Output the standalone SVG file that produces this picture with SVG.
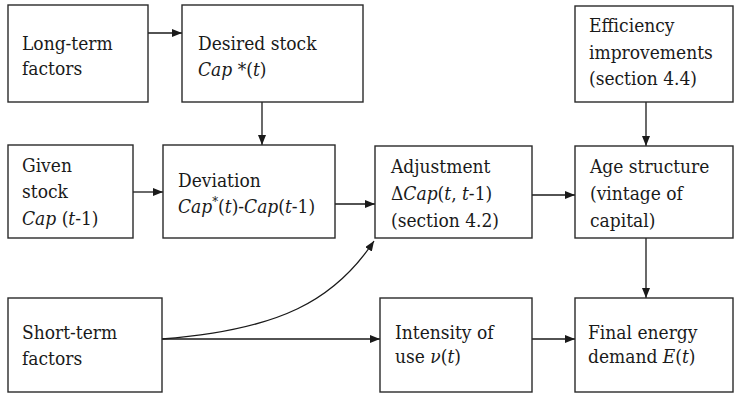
<svg xmlns="http://www.w3.org/2000/svg" width="736" height="394" viewBox="0 0 736 394">
  <defs>
    <marker id="arrow" viewBox="0 0 10 8" refX="10" refY="4" markerWidth="10" markerHeight="8" markerUnits="userSpaceOnUse" orient="auto">
      <path d="M0,0 L10,4 L0,8 Z" fill="#1a1a1a"/>
    </marker>
    <style>
      rect { fill: #fff; stroke: #2a2a2a; stroke-width: 1.4; }
      text { font-family: 'DejaVu Serif Condensed', 'DejaVu Serif', 'Liberation Serif', serif; font-stretch: condensed; font-size: 19px; fill: #1a1a1a; }
      .i { font-style: italic; }
      .conn { fill: none; stroke: #1a1a1a; stroke-width: 1.3; marker-end: url(#arrow); }
    </style>
  </defs>

  <rect width="736" height="394" style="fill:#fff;stroke:none"/>

  <g id="connectors">
    <line class="conn" x1="148" y1="33" x2="182" y2="33"/>
    <line class="conn" x1="262" y1="102" x2="262" y2="145"/>
    <line class="conn" x1="133" y1="192" x2="163" y2="192"/>
    <line class="conn" x1="335" y1="204" x2="375" y2="204"/>
    <line class="conn" x1="532" y1="195" x2="575" y2="195"/>
    <line class="conn" x1="646" y1="102" x2="646" y2="146"/>
    <line class="conn" x1="646" y1="238" x2="646" y2="298"/>
    <line class="conn" x1="162" y1="339" x2="380" y2="339"/>
    <line class="conn" x1="532" y1="339" x2="575" y2="339"/>
    <path class="conn" d="M162,339 C280,330 335,300 374,241"/>
  </g>

  <g id="long-term">
    <rect x="8" y="5" width="140" height="97"/>
    <text x="22" y="50">Long-term</text>
    <text x="22" y="75">factors</text>
  </g>

  <g id="desired-stock">
    <rect x="182" y="5" width="181" height="97"/>
    <text x="198" y="50">Desired stock</text>
    <text x="198" y="76"><tspan class="i">Cap</tspan> *(<tspan class="i">t</tspan>)</text>
  </g>

  <g id="efficiency">
    <rect x="575" y="6" width="158" height="96"/>
    <text x="589" y="32">Efficiency</text>
    <text x="589" y="59">improvements</text>
    <text x="589" y="85">(section 4.4)</text>
  </g>

  <g id="given-stock">
    <rect x="8" y="145" width="125" height="93"/>
    <text x="22" y="172">Given</text>
    <text x="22" y="198">stock</text>
    <text x="22" y="225"><tspan class="i">Cap</tspan> (<tspan class="i">t</tspan>-1)</text>
  </g>

  <g id="deviation">
    <rect x="163" y="145" width="172" height="93"/>
    <text x="178" y="187">Deviation</text>
    <text x="178" y="213"><tspan class="i">Cap</tspan><tspan font-size="13" dy="-7">*</tspan><tspan dy="7">(</tspan><tspan class="i">t</tspan>)-<tspan class="i">Cap</tspan>(<tspan class="i">t</tspan>-1)</text>
  </g>

  <g id="adjustment">
    <rect x="375" y="146" width="157" height="92"/>
    <text x="391" y="173">Adjustment</text>
    <text x="391" y="200">Δ<tspan class="i">Cap</tspan>(<tspan class="i">t</tspan>, <tspan class="i">t</tspan>-1)</text>
    <text x="391" y="227">(section 4.2)</text>
  </g>

  <g id="age-structure">
    <rect x="575" y="146" width="158" height="92"/>
    <text x="590" y="173">Age structure</text>
    <text x="590" y="200">(vintage of</text>
    <text x="590" y="227">capital)</text>
  </g>

  <g id="short-term">
    <rect x="8" y="298" width="154" height="94"/>
    <text x="22" y="339">Short-term</text>
    <text x="22" y="365">factors</text>
  </g>

  <g id="intensity">
    <rect x="380" y="298" width="152" height="94"/>
    <text x="395" y="339">Intensity of</text>
    <text x="395" y="363">use <tspan class="i">ν</tspan>(<tspan class="i">t</tspan>)</text>
  </g>

  <g id="final-demand">
    <rect x="575" y="298" width="158" height="94"/>
    <text x="588" y="339">Final energy</text>
    <text x="588" y="363">demand <tspan class="i">E</tspan>(<tspan class="i">t</tspan>)</text>
  </g>
</svg>
